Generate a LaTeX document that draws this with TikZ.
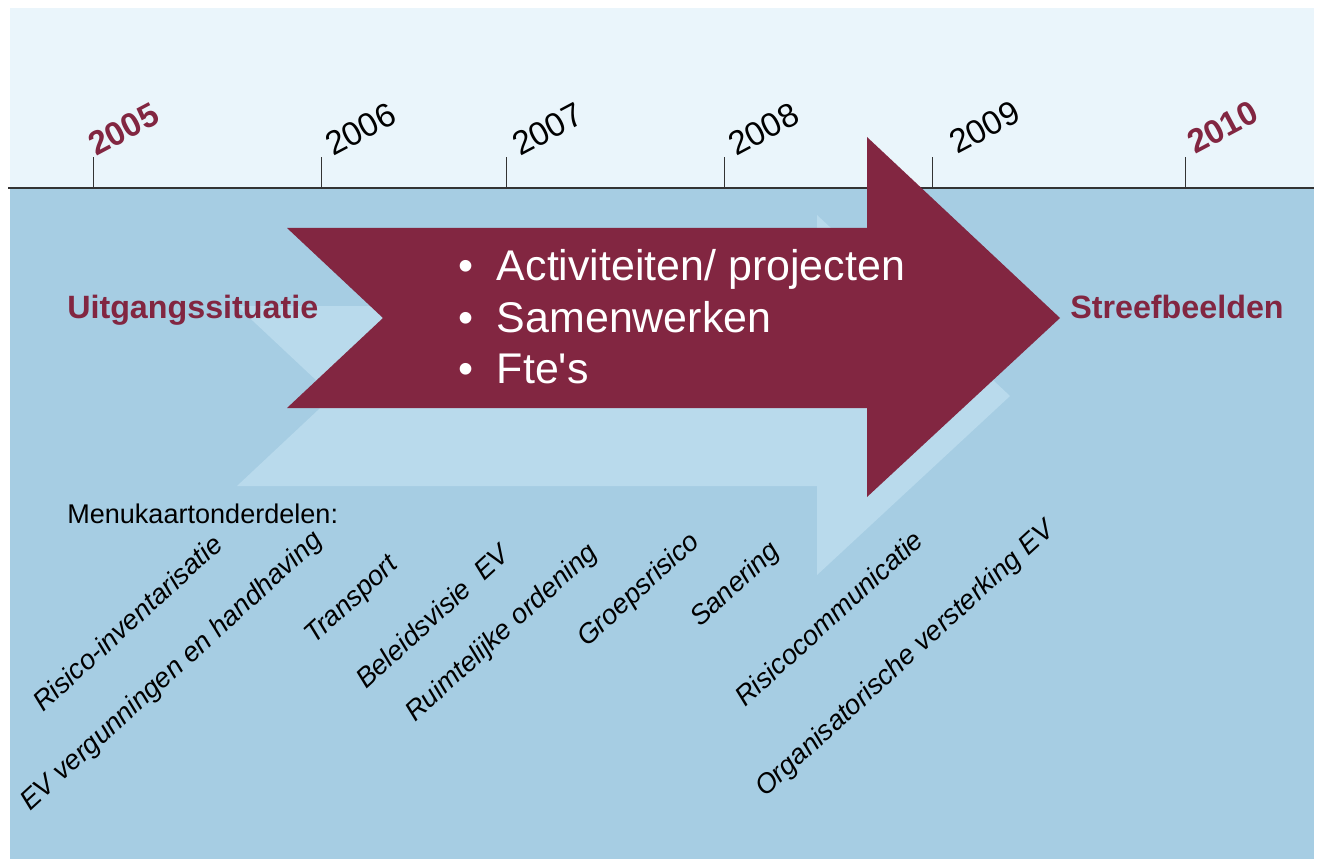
\documentclass[tikz,border=0pt]{standalone}
\usepackage{fontspec}
\setmainfont{Liberation Sans}[Ligatures=TeXOff]
\definecolor{wine}{HTML}{822641}
\definecolor{skytop}{HTML}{EAF5FB}
\definecolor{seablue}{HTML}{A6CDE3}
\definecolor{ghostblue}{HTML}{B9DAEC}
\definecolor{axisgray}{HTML}{333333}

\begin{document}
\begin{tikzpicture}[x=0.75pt,y=-0.75pt]
    \useasboundingbox (0,0) rectangle (1319,859);

    % background
    \fill[skytop] (10,8) rectangle (1314,188);
    \fill[seablue] (10,188) rectangle (1314,859);

    % time line
    \coordinate (tlstart) at (8,188);
    \coordinate (tlend) at (1314,188);
    \draw[axisgray, line width=1.5pt] (tlstart) -- (tlend);

    \begin{scope}[every path/.style={draw=axisgray, line width=0.75pt}]
        \coordinate (t2005) at (93,188);
        \coordinate (t2006) at (321,188);
        \coordinate (t2007) at (506,188);
        \coordinate (t2008) at (724,188);
        \coordinate (t2009) at (932,188);
        \coordinate (t2010) at (1185,188);
        \draw (t2005) -- ++(0,-31);
        \draw (t2006) -- ++(0,-31);
        \draw (t2007) -- ++(0,-31);
        \draw (t2008) -- ++(0,-31);
        \draw (t2009) -- ++(0,-31);
        \draw (t2010) -- ++(0,-31);
    \end{scope}

    \begin{scope}[every node/.style={anchor=base west, rotate=28, inner sep=0pt,
        font=\fontsize{25}{28}\selectfont}]
        \node[text=wine, font=\fontsize{25}{28}\bfseries] (y2005) at (96,157) {2005};
        \node (y2006) at (333,157) {2006};
        \node (y2007) at (520,157) {2007};
        \node (y2008) at (736,157) {2008};
        \node (y2009) at (957,155) {2009};
        \node[text=wine, font=\fontsize{25}{28}\bfseries] (y2010) at (1195,155) {2010};
    \end{scope}

    % arrows
    \fill[ghostblue] (237,306) -- (817,306) -- (817,215) -- (1010,396) -- (817,575)
        -- (817,486) -- (237,486) -- (333,396) -- cycle;
    \fill[wine] (287,228) -- (867,228) -- (867,137) -- (1060,318) -- (867,497)
        -- (867,408) -- (287,408) -- (383,318) -- cycle;

    \begin{scope}[every node/.style={anchor=base west, inner sep=0pt, text=white,
        font=\fontsize{32.2}{36}\selectfont}]
        \node (act) at (458,280) {\makebox[29pt][l]{•}Activiteiten/ projecten};
        \node (sam) at (458,332) {\makebox[29pt][l]{•}Samenwerken};
        \node (fte) at (458,383) {\makebox[29pt][l]{•}Fte's};
    \end{scope}

    \begin{scope}[every node/.style={anchor=base west, inner sep=0pt, text=wine,
        font=\fontsize{24.2}{28}\bfseries}]
        \node (start) at (67,318) {Uitgangssituatie};
        \node (goal) at (1070,318) {Streefbeelden};
    \end{scope}

    \node[anchor=base west, inner sep=0pt, font=\fontsize{20.3}{24}\selectfont]
        (menu) at (67,523) {Menukaartonderdelen:};

    \begin{scope}[every node/.style={anchor=base west, rotate=42.5, inner sep=0pt,
        font=\fontsize{20.6}{23}\itshape}]
        \node (ri) at (43,713) {Risico-inventarisatie};
        \node (vh) at (30,812) {EV vergunningen en handhaving};
        \node (tr) at (314,645) {Transport};
        \node (bv) at (366,690) {Beleidsvisie\ \ EV};
        \node (ro) at (415,723) {Ruimtelijke ordening};
        \node (gr) at (587,648) {Groepsrisico};
        \node (sa) at (700,628) {Sanering};
        \node (rc) at (745,708) {Risicocommunicatie};
        \node (ov) at (765,798) {Organisatorische versterking EV};
    \end{scope}
\end{tikzpicture}
\end{document}
